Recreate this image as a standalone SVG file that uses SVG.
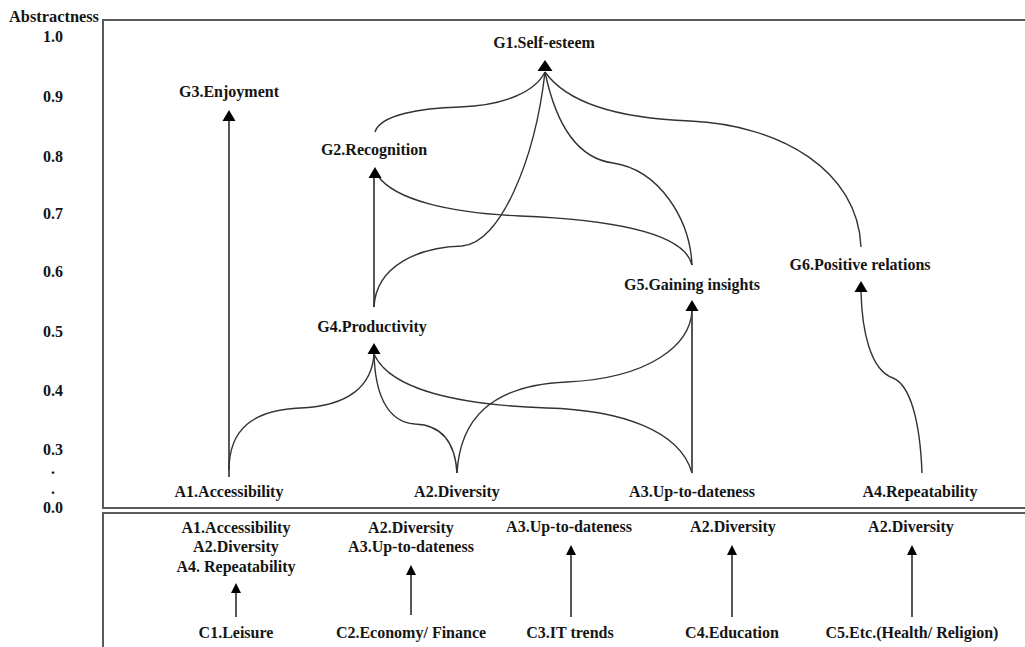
<svg xmlns="http://www.w3.org/2000/svg" xmlns:xlink="http://www.w3.org/1999/xlink" width="1025" height="647" viewBox="0 0 1025 647">
<style>
text{font-family:"Liberation Serif","Times New Roman",serif;font-weight:bold;font-size:16px;fill:#151515;text-anchor:middle}
.frame{fill:none;stroke:#5a5a5a;stroke-width:2}
.c{fill:none;stroke:#333;stroke-width:1.4}
.v{fill:none;stroke:#444;stroke-width:1.8}
.ah{fill:#000}
</style>
<defs>
<path id="tri" class="ah" d="M0,0 L6.5,11 L-6.5,11 Z"/>
<path id="triL" class="ah" d="M0,0 L7.5,11 L-7.5,11 Z"/>
<path id="triS" class="ah" d="M0,0 L5,10 L-5,10 Z"/>
</defs>
<rect width="1025" height="647" fill="#fff"/>
<g id="frames">
<path class="frame" d="M1030,20 H103 V508 H1030"/>
<path class="frame" d="M1030,513 H103 V650"/>
</g>
<g id="axis">
<text x="54" y="22" text-anchor="middle" textLength="90" lengthAdjust="spacingAndGlyphs">Abstractness</text>
<text x="53" y="42">1.0</text>
<text x="53" y="102">0.9</text>
<text x="53" y="162">0.8</text>
<text x="53" y="219">0.7</text>
<text x="53" y="277">0.6</text>
<text x="53" y="337">0.5</text>
<text x="53" y="396">0.4</text>
<text x="53" y="455">0.3</text>
<text x="53" y="474">.</text>
<text x="53" y="494">.</text>
<text x="53" y="513">0.0</text>
</g>
<g id="connectors">
<path class="v" d="M229,477 V121"/>
<path class="c" d="M229,470 C229,430 252,410 300,408 C350,406 372,385 374,354"/>
<path class="c" d="M457,473 C455,440 440,425 415,424 C385,422 375,390 374,354"/>
<path class="c" d="M457,473 C460,420 490,385 567,382 C650,378 690,345 692,311"/>
<path class="c" d="M692,473 C680,430 620,410 547,408 C460,405 390,390 374,354"/>
<path class="v" d="M692,473 V311"/>
<path class="c" d="M922,473 C920,420 910,385 893,378 C870,370 862,330 861,292"/>
<path class="v" d="M374,307 V178"/>
<path class="c" d="M374,307 C376,265 420,247 462,246 C500,244 535,160 545,72"/>
<path class="c" d="M378,176 C395,200 450,213 520,216 C620,220 685,235 692,265"/>
<path class="c" d="M375,132 C380,115 420,108 460,107 C505,105 535,92 545,72"/>
<path class="c" d="M545,72 C555,120 575,158 613,163 C660,170 690,220 692,265"/>
<path class="c" d="M545,72 C565,100 610,118 690,121 C780,125 858,170 861,247"/>
<use href="#triL" x="545" y="60"/>
<use href="#tri" x="229" y="110"/>
<use href="#tri" x="375" y="167"/>
<use href="#tri" x="374" y="343"/>
<use href="#tri" x="692" y="300"/>
<use href="#tri" x="861" y="281"/>
<path class="v" d="M236,617 V592"/>
<path class="v" d="M411,615 V574"/>
<path class="v" d="M571,617 V554"/>
<path class="v" d="M732,617 V554"/>
<path class="v" d="M912,617 V554"/>
<use href="#triS" x="236" y="583"/>
<use href="#triS" x="411" y="565"/>
<use href="#triS" x="571" y="545"/>
<use href="#triS" x="732" y="545"/>
<use href="#triS" x="912" y="545"/>
</g>
<g id="G1"><text x="544" y="48">G1.Self-esteem</text></g>
<g id="G3"><text x="229" y="97">G3.Enjoyment</text></g>
<g id="G2"><text x="374" y="155">G2.Recognition</text></g>
<g id="G5"><text x="692" y="290">G5.Gaining insights</text></g>
<g id="G6"><text x="860" y="270">G6.Positive relations</text></g>
<g id="G4"><text x="372" y="332">G4.Productivity</text></g>
<g id="A1"><text x="229" y="497">A1.Accessibility</text></g>
<g id="A2"><text x="457" y="497">A2.Diversity</text></g>
<g id="A3"><text x="692" y="497">A3.Up-to-dateness</text></g>
<g id="A4"><text x="920" y="497">A4.Repeatability</text></g>
<g id="C1attr"><text x="236" y="533">A1.Accessibility</text><text x="236" y="552">A2.Diversity</text><text x="236" y="572">A4. Repeatability</text></g>
<g id="C2attr"><text x="411" y="533">A2.Diversity</text><text x="411" y="552">A3.Up-to-dateness</text></g>
<g id="C3attr"><text x="569" y="532">A3.Up-to-dateness</text></g>
<g id="C4attr"><text x="733" y="532">A2.Diversity</text></g>
<g id="C5attr"><text x="911" y="532">A2.Diversity</text></g>
<g id="C1"><text x="236" y="638">C1.Leisure</text></g>
<g id="C2"><text x="411" y="638">C2.Economy/ Finance</text></g>
<g id="C3"><text x="570" y="638">C3.IT trends</text></g>
<g id="C4"><text x="732" y="638">C4.Education</text></g>
<g id="C5"><text x="912" y="638">C5.Etc.(Health/ Religion)</text></g>
</svg>
